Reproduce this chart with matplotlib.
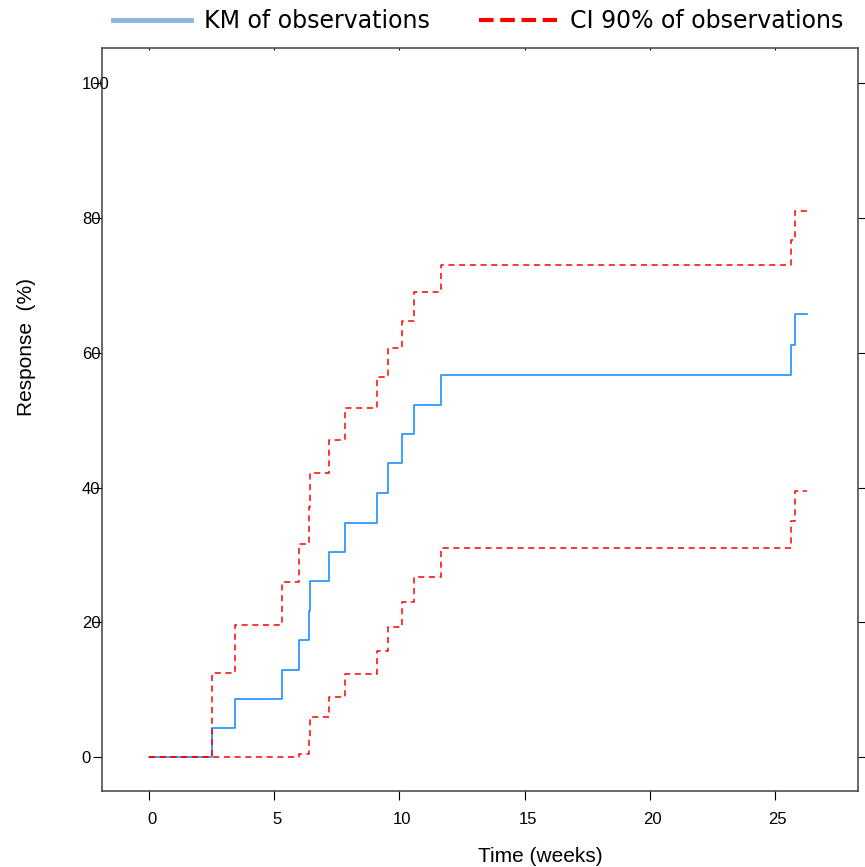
import matplotlib
matplotlib.use("Agg")
import matplotlib.pyplot as plt
import matplotlib.transforms as mtransforms

# step times (weeks), last value = end of follow-up
weeks = [0, 2.5, 3.44, 5.3, 6.0, 6.37, 6.43, 7.17, 7.81, 9.1, 9.53,
         10.12, 10.6, 11.67, 25.63, 25.8, 26.3]
km = [0, 4.3, 8.7, 13.0, 17.4, 21.7, 26.1, 30.5, 34.8, 39.2, 43.6,
      47.9, 52.2, 56.7, 61.1, 65.8, 65.8]
ci_upper = [0, 12.5, 19.6, 26.0, 31.7, 37.1, 42.2, 47.0, 51.8, 56.4, 60.7,
            64.8, 69.0, 73.0, 76.8, 81.0, 81.0]
ci_lower = [0, 0, 0, 0, 0.4, 3.0, 6.0, 9.0, 12.3, 15.7, 19.3,
            23.1, 26.8, 31.0, 35.0, 39.5, 39.5]

x_ticks = [0, 5, 10, 15, 20, 25]
y_ticks = [0, 20, 40, 60, 80, 100]

plt.rcParams['font.family'] = ['Liberation Sans', 'DejaVu Sans']

W, H = 865, 867
fig = plt.figure(figsize=(W / 100, H / 100), dpi=100)
ax = fig.add_axes([102 / W, (H - 790.5) / H, (858 - 102) / W, (790.5 - 47.7) / H])

ax.step(weeks, km, where='post', color='#1E8FFF', lw=1.2)
ax.step(weeks, ci_upper, where='post', color='red', lw=1.1, dashes=(4, 3))
ax.step(weeks, ci_lower, where='post', color='red', lw=1.1, dashes=(4, 3))

ax.set_xlim(-1.88, 28.32)
ax.set_ylim(-4.95, 105.3)
ax.set_xticks(x_ticks)
ax.set_yticks(y_ticks)

for side in ax.spines.values():
    side.set_color('#404040')
    side.set_linewidth(1.1)

ax.tick_params(axis='both', direction='out', length=6.5, width=0.8,
               colors='black', labelsize=12)
ax.tick_params(axis='x', top=True, pad=9)
ax.tick_params(axis='y', right=True, pad=8)
# lattice style: only tiny ticks on top
for t in ax.xaxis.get_major_ticks():
    t.tick2line.set_markersize(1.5)
    t.tick2line.set_marker(3)

for lbl in ax.get_yticklabels():
    lbl.set_horizontalalignment('left')
shift = mtransforms.ScaledTranslation(3 / 100, 0, fig.dpi_scale_trans)
for lbl in ax.get_xticklabels():
    lbl.set_transform(lbl.get_transform() + shift)

fig.text(540 / W, 1 - 857 / H, 'Time (weeks)', ha='center', va='center', fontsize=15)
fig.text(27 / W, 1 - 347 / H, 'Response  (%)', ha='center', va='center',
         rotation=90, fontsize=15)

h1, = ax.plot([], [], color='#8DB4E2', lw=3.5)
h2, = ax.plot([], [], color='red', lw=3, dashes=(3.5, 1.6))
fig.legend([h1, h2], ['KM of observations', 'CI 90% of observations'],
           loc='center', bbox_to_anchor=(478 / W, 1 - 21 / H), ncol=2,
           frameon=False, handlelength=3.3, handletextpad=0.55,
           columnspacing=2.1, borderaxespad=0,
           prop={'family': ['Liberation Sans Narrow', 'DejaVu Sans'], 'size': 17})

fig.savefig('out.png', dpi=100)
